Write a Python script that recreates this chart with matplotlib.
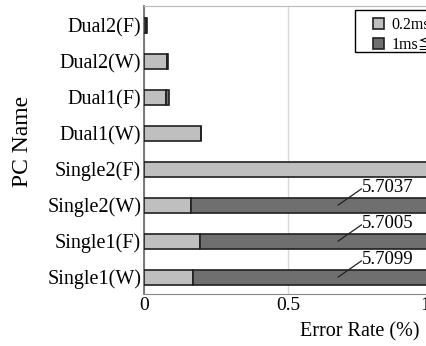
import matplotlib
matplotlib.use("Agg")
import matplotlib.pyplot as plt
from matplotlib.patches import Rectangle
import numpy as np

plt.rcParams['font.family'] = ['Liberation Serif', 'DejaVu Serif', 'Noto Sans CJK JP']

categories = ["Single1(W)", "Single1(F)", "Single2(W)", "Single2(F)",
              "Dual1(W)", "Dual1(F)", "Dual2(W)", "Dual2(F)"]
short_err = [0.170, 0.193, 0.164, 5.70, 0.198, 0.077, 0.080, 0.008]   # 0.2ms <= t < 1ms
long_err = [5.540, 5.508, 5.540, 0.0, 0.0, 0.009, 0.002, 0.004]      # 1ms <= t
totals_labels = ["5.7099", "5.7005", "5.7037", None, None, None, None, None]
legend_labels = ["0.2ms\u2266t<1ms", "1ms\u2266t"]
xticks = [0, 0.5, 1.0, 1.5]
xtick_labels = ["0", "0.5", "1.0", "1.5"]

W, H = 427, 346
fig = plt.figure(figsize=(W / 100, H / 100), dpi=100)
left = 144 / W
bottom = 1 - 294 / H
height = (294 - 6) / H
width = 432 / W
ax = fig.add_axes([left, bottom, width, height])

y = np.arange(len(categories))
light = "#bfbfbf"
dark = "#6f6f6f"
ax.barh(y, short_err, height=0.42, color=light, edgecolor="#202020", linewidth=1.2, zorder=3,
        label=legend_labels[0])
ax.barh(y, long_err, left=short_err, height=0.42, color=dark, edgecolor="#202020",
        linewidth=1.2, zorder=3, label=legend_labels[1])

for yi, lab in zip(y, totals_labels):
    if lab:
        ax.plot([0.674, 0.755], [yi, yi + 0.45], color="#202020", lw=0.9, zorder=4)
        ax.text(0.757, yi + 0.50, lab, ha="left", va="center", fontsize=13.5, zorder=5)

ax.set_xlim(0, 1.5)
ax.set_ylim(-0.47, 7.53)
ax.set_yticks(y)
ax.set_yticklabels(categories, fontsize=14.5)
ax.set_xticks(xticks)
ax.set_xticklabels(xtick_labels, fontsize=14)
ax.tick_params(axis="y", length=0, pad=2)
ax.tick_params(axis="x", length=0, pad=2)
ax.grid(axis="x", color="#d9d9d9", lw=1, zorder=0)
for s in ["top", "right"]:
    ax.spines[s].set_color("#bbbbbb")
ax.spines["bottom"].set_color("#888888")
ax.spines["left"].set_color("#666666")
ax.spines["left"].set_linewidth(1.2)
ax.set_xlabel("Error Rate (%)", fontsize=14.5, labelpad=6)
ax.set_ylabel("PC Name", fontsize=17)
ax.yaxis.set_label_coords(-(144 - 33) / 432, 0.531)

# legend frame
ax.add_patch(Rectangle((355 / W, 1 - 52 / H), 100 / W, 42 / H,
                       transform=fig.transFigure, facecolor="white",
                       edgecolor="black", lw=1.0, zorder=4.5, clip_on=False))
leg = ax.legend(loc="upper left", bbox_to_anchor=(368 / W, 1 - 12 / H),
                bbox_transform=fig.transFigure, fontsize=11.5, frameon=False,
                handlelength=0.7, handleheight=0.7, handletextpad=0.45,
                borderpad=0.3, labelspacing=0.25, borderaxespad=0)
leg.set_zorder(6)

fig.savefig("out.png", dpi=100)
